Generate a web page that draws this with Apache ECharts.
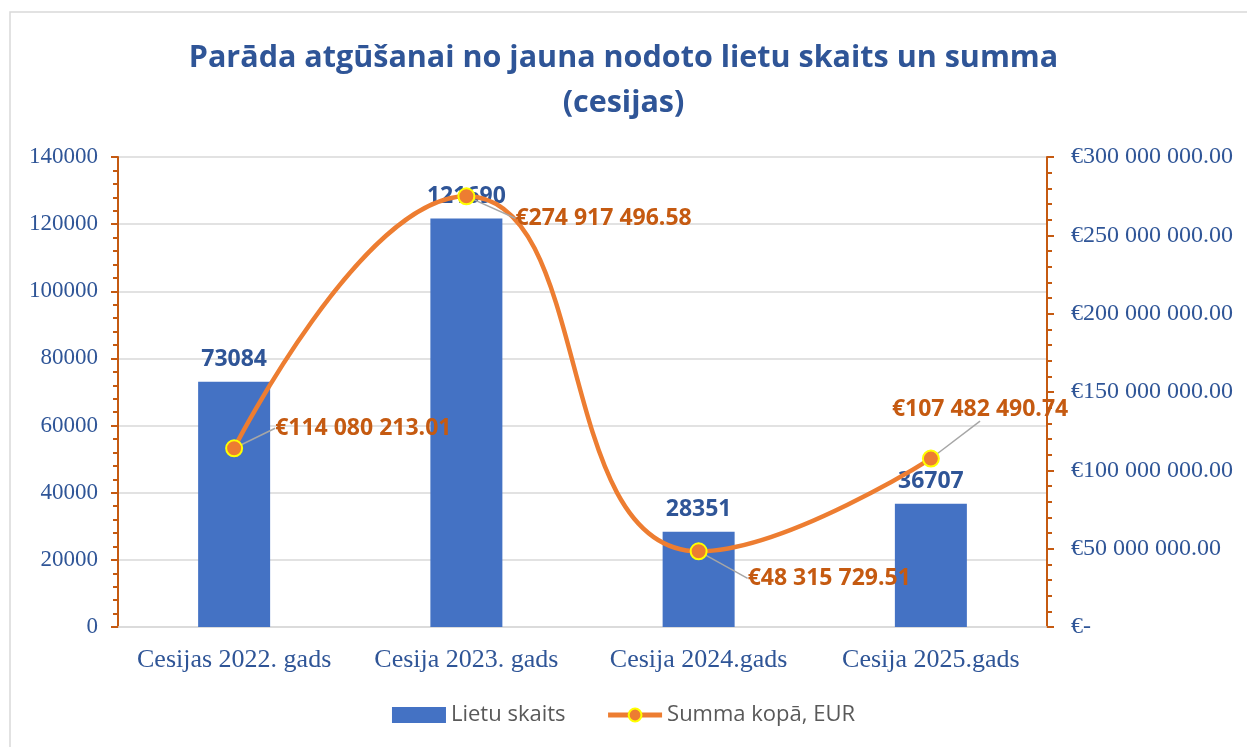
<!DOCTYPE html>
<html>
<head>
<meta charset="utf-8">
<script src="https://cdn.jsdelivr.net/npm/echarts@6/dist/echarts.min.js"></script>
<style>
  html, body { margin: 0; padding: 0; background: #fff; }
  #chart { width: 1247px; height: 747px; }
</style>
</head>
<body>
<div id="chart"></div>
<script>
const categories = ['Cesijas 2022. gads', 'Cesija 2023. gads', 'Cesija 2024.gads', 'Cesija 2025.gads'];
const caseCounts = [73084, 121690, 28351, 36707];
const sumTotals = [114080213.01, 274917496.58, 48315729.51, 107482490.74];
const leftTicks = [0, 20000, 40000, 60000, 80000, 100000, 120000, 140000];
const rightTicks = [0, 50000000, 100000000, 150000000, 200000000, 250000000, 300000000];

// label nudges for the sum labels (dx, dy)
const sumLabelShift = [[27, -20], [35, 22], [35, 27], [-53, -49]];

function formatEur(v, decimals) {
  if (v === 0) return '€-';
  const parts = v.toFixed(decimals).split('.');
  const intPart = parts[0].replace(/\B(?=(\d{3})+(?!\d))/g, ' ');
  return '€' + intPart + '.' + parts[1];
}

const blueText = '#2F5597';
const orangeAxis = '#C55A11';

const chart = echarts.init(document.getElementById('chart'));

chart.setOption({
  animation: false,
  graphic: [{
    type: 'rect',
    shape: { x: 10, y: 12, width: 1260, height: 760 },
    style: { fill: 'none', stroke: '#D9D9D9', lineWidth: 1.5 }
  }],
  title: {
    text: 'Parāda atgūšanai no jauna nodoto lietu skaits un summa\n(cesijas)',
    left: 'center',
    top: 31,
    textStyle: {
      fontFamily: 'Open Sans',
      fontWeight: 'bold',
      fontSize: 30.5,
      lineHeight: 45,
      color: blueText
    }
  },
  legend: {
    bottom: 16,
    left: 'center',
    itemWidth: 54,
    itemHeight: 16,
    itemGap: 40,
    textStyle: { fontFamily: 'Open Sans', fontSize: 22, color: '#595959' },
    data: [
      { name: 'Lietu skaits', icon: 'rect' },
      { name: 'Summa kopā, EUR', lineStyle: { width: 5 } }
    ]
  },
  grid: { left: 118, right: 200, top: 157, bottom: 120 },
  xAxis: {
    type: 'category',
    data: categories,
    axisLine: { lineStyle: { color: '#D9D9D9', width: 1.5 } },
    axisTick: { show: false },
    axisLabel: {
      interval: 0,
      margin: 20,
      fontFamily: 'Liberation Serif',
      fontSize: 26,
      color: blueText
    }
  },
  yAxis: [{
    type: 'value',
    min: 0,
    max: 140000,
    interval: 20000,
    axisLine: { show: true, lineStyle: { color: orangeAxis, width: 2 } },
    axisTick: { show: true, length: 7, lineStyle: { color: orangeAxis, width: 2 } },
    minorTick: { show: true, splitNumber: 5, length: 5, lineStyle: { color: orangeAxis, width: 2 } },
    splitLine: { lineStyle: { color: '#D9D9D9', width: 1.5 } },
    axisLabel: {
      margin: 20,
      fontFamily: 'Liberation Serif',
      fontSize: 23,
      color: blueText,
      formatter: v => leftTicks.includes(v) ? String(v) : ''
    }
  }, {
    type: 'value',
    min: 0,
    max: 300000000,
    interval: 50000000,
    position: 'right',
    axisLine: { show: true, lineStyle: { color: orangeAxis, width: 2 } },
    axisTick: { show: true, length: 7, lineStyle: { color: orangeAxis, width: 2 } },
    minorTick: { show: true, splitNumber: 5, length: 5, lineStyle: { color: orangeAxis, width: 2 } },
    splitLine: { show: false },
    axisLabel: {
      margin: 24,
      fontFamily: 'Liberation Serif',
      fontSize: 24,
      color: blueText,
      formatter: v => rightTicks.includes(v) ? formatEur(v, 2) : ''
    }
  }],
  series: [{
    name: 'Lietu skaits',
    type: 'bar',
    yAxisIndex: 0,
    barWidth: 72,
    data: caseCounts,
    itemStyle: { color: '#4472C4' },
    label: {
      show: true,
      position: 'top',
      distance: 11,
      fontFamily: 'Open Sans',
      fontWeight: 'bold',
      fontSize: 23,
      color: blueText
    }
  }, {
    name: 'Summa kopā, EUR',
    type: 'line',
    yAxisIndex: 1,
    smooth: 0.5,
    data: sumTotals,
    symbol: 'circle',
    symbolSize: 16,
    z: 5,
    lineStyle: { color: '#ED7D31', width: 4.5 },
    itemStyle: { color: '#ED7D31', borderColor: '#FFFF00', borderWidth: 2 },
    label: {
      show: true,
      position: 'right',
      distance: 5,
      fontFamily: 'Open Sans',
      fontWeight: 'bold',
      fontSize: 23,
      color: orangeAxis,
      formatter: p => formatEur(p.value, 2)
    },
    labelLine: { show: true, lineStyle: { color: '#A6A6A6', width: 1.5 } },
    labelLayout: p => ({ dx: sumLabelShift[p.dataIndex][0], dy: sumLabelShift[p.dataIndex][1] })
  }]
});
</script>
</body>
</html>
